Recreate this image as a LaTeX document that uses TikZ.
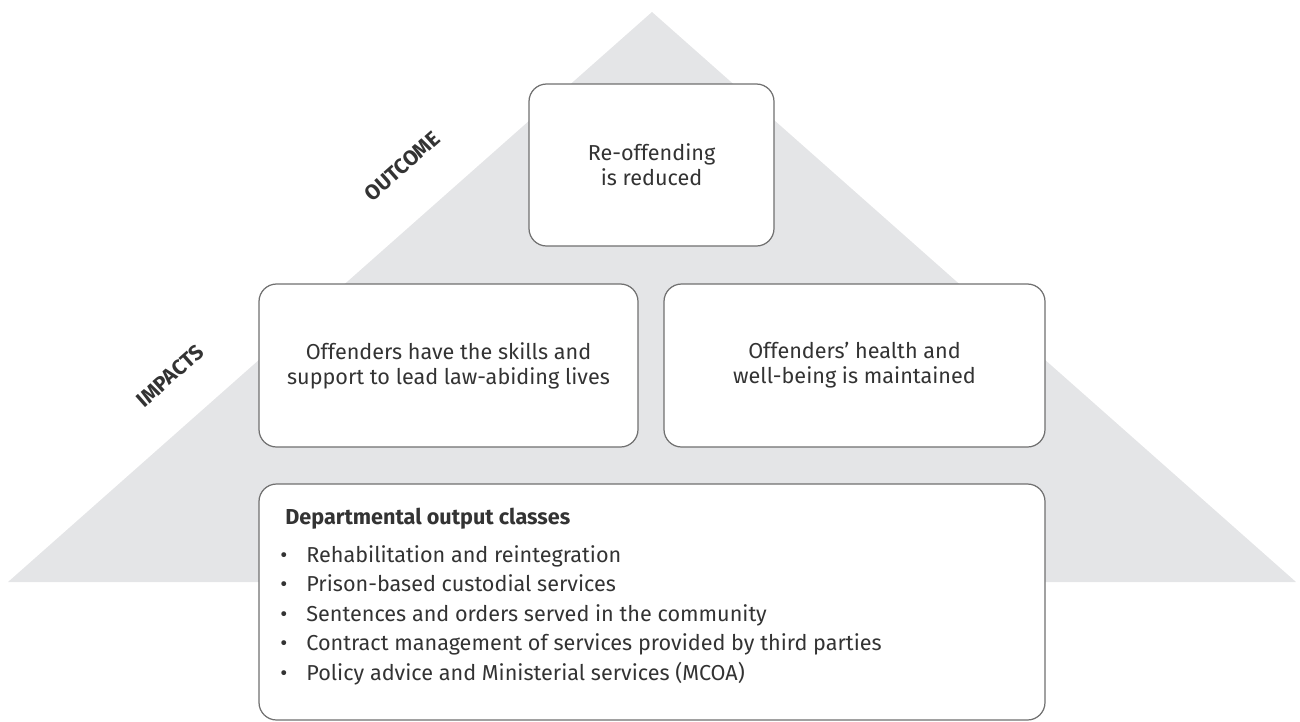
\documentclass[tikz,border=0pt]{standalone}
\usepackage{fontspec}
\setmainfont{Fira Sans}
\usepackage{xcolor}
\definecolor{pyramid}{HTML}{E4E5E7}
\definecolor{boxline}{HTML}{707070}
\definecolor{ink}{HTML}{333333}

\begin{document}
\begin{tikzpicture}[
  box/.style={draw=boxline,line width=0.7pt,rounded corners=10pt,fill=white,
    align=center,text=ink,font=\fontsize{12.3}{14.2}\selectfont,inner sep=0pt},
  tier/.style={text=ink,font=\bfseries\fontsize{12}{12}\selectfont,rotate=41.5},
  item/.style={anchor=base west,text=ink,font=\fontsize{12.3}{14}\selectfont,inner sep=0pt}
]
\useasboundingbox (0,0) rectangle (26,-14.42);
% pyramid behind the boxes
\fill[pyramid] (13.04,-0.24) -- (0.16,-11.64) -- (25.92,-11.64) -- cycle;
%
\node[tier] (outcome) at (8.04,-3.32) {OUTCOME};
\node[tier] (impacts) at (3.40,-7.52) {IMPACTS};
%
\node[box,minimum width=4.9cm,minimum height=3.24cm] (reoff) at (13.03,-3.30)
  {Re-offending\\is reduced};
\node[box,minimum width=7.58cm,minimum height=3.26cm] (skills) at (8.97,-7.31)
  {Offenders have the skills and\\support to lead law-abiding lives};
\node[box,minimum width=7.62cm,minimum height=3.26cm] (health) at (17.09,-7.31)
  {Offenders’ health and\\well-being is maintained};
\node[box,minimum width=15.72cm,minimum height=4.72cm] (outputs) at (13.04,-12.04) {};
%
\node[item,font=\bfseries\fontsize{12.3}{14}\selectfont] (head) at (5.70,-10.48)
  {Departmental output classes};
\foreach \txt [count=\i] in {Rehabilitation and reintegration,
    Prison-based custodial services,
    Sentences and orders served in the community,
    Contract management of services provided by third parties,
    Policy advice and Ministerial services (MCOA)}{
  \node[item] (dot\i) at (5.60,-10.65-0.59*\i) {•};
  \node[item] (out\i) at (6.12,-10.65-0.59*\i) {\txt};
}
\end{tikzpicture}
\end{document}
